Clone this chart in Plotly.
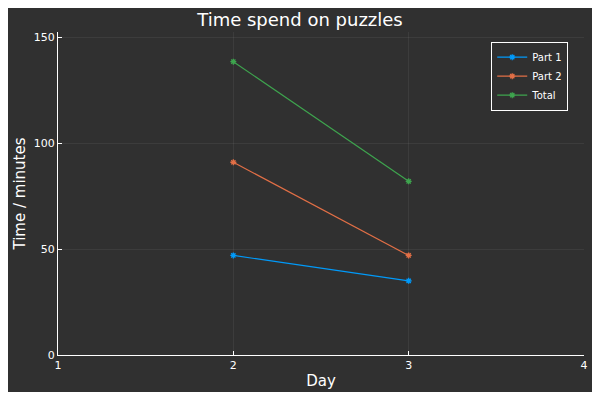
import plotly.graph_objects as go

days = [2, 3]
part1 = [47, 35]
part2 = [91, 47]
total = [138.5, 82]

series = [("Part 1", part1, "#009afa"), ("Part 2", part2, "#e26f46"), ("Total", total, "#3ea44e")]

fig = go.Figure()
for name, vals, color in series:
    fig.add_trace(go.Scatter(
        x=days, y=vals, name=name, mode="lines+markers",
        line=dict(color=color, width=1.2),
        marker=dict(symbol="asterisk", size=5, color=color, line=dict(color=color, width=1.3))
    ))

bg = "#303030"
fig.update_layout(
    width=584, height=384,
    paper_bgcolor=bg, plot_bgcolor=bg,
    font=dict(family="DejaVu Sans", color="white", size=11),
    title=dict(text="Time spend on puzzles", x=0.5, xanchor="center", y=0.985, font=dict(size=18)),
    margin=dict(l=50, r=4, t=24, b=37),
    showlegend=True,
    legend=dict(x=0.97, y=0.97, xanchor="right", yanchor="top", tracegroupgap=0,
                bgcolor=bg, bordercolor="white", borderwidth=1, font=dict(size=10)),
    xaxis=dict(title=dict(text="Day", font=dict(size=15), standoff=4), range=[1, 4],
               tickvals=[1, 2, 3, 4], showgrid=True, gridcolor="rgba(255,255,255,0.06)",
               showline=True, linecolor="white", zeroline=False, ticks="inside", ticklen=4, tickcolor="white"),
    yaxis=dict(title=dict(text="Time / minutes", font=dict(size=15), standoff=4), range=[0, 152.5],
               tickvals=[0, 50, 100, 150], showgrid=True, gridcolor="rgba(255,255,255,0.06)",
               showline=True, linecolor="white", zeroline=False, ticks="inside", ticklen=4, tickcolor="white"),
)
fig.write_html("out.html")
